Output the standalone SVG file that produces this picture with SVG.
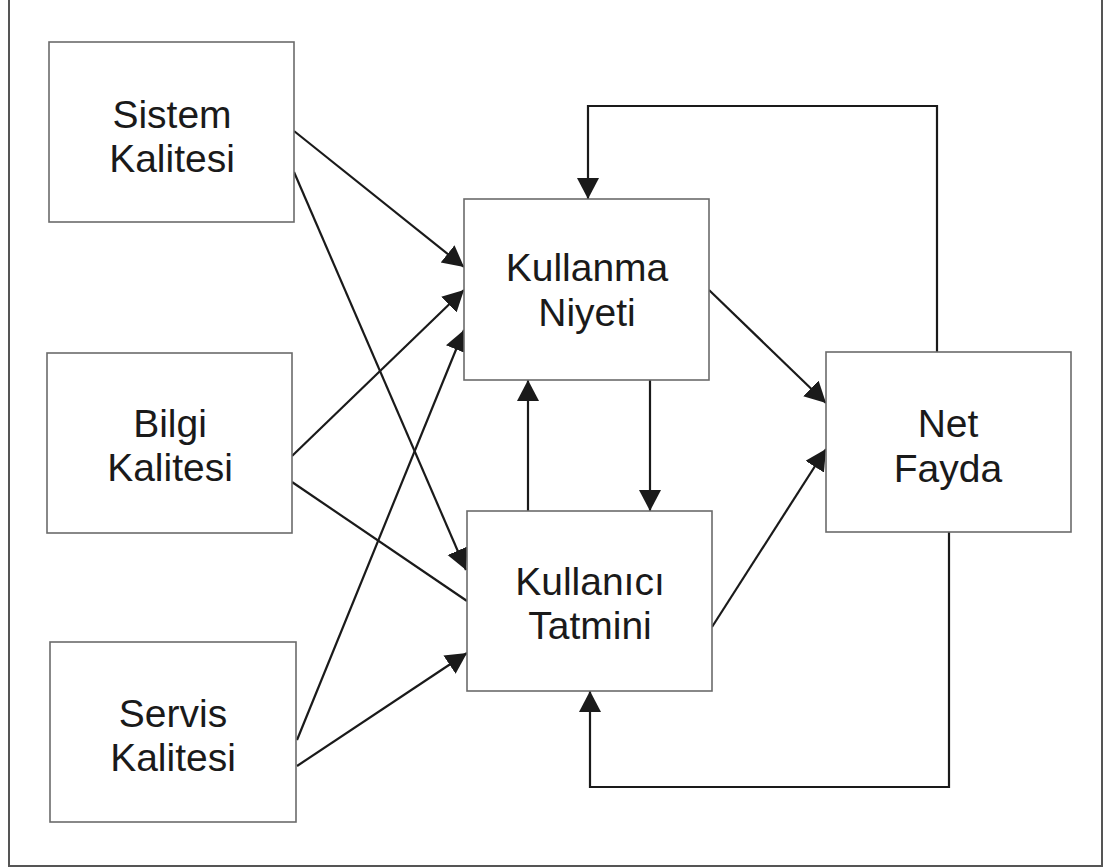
<svg xmlns="http://www.w3.org/2000/svg" width="1105" height="868" viewBox="0 0 1105 868">
  <style>
    .box { fill: #ffffff; stroke: #6b6b6b; stroke-width: 1.6; }
    .lbl { font-family: "Liberation Sans", Arial, sans-serif; font-size: 39px; fill: #1a1a1a; text-anchor: middle; }
    .edge { fill: none; stroke: #1a1a1a; stroke-width: 2.2; }
    .arr { marker-end: url(#head); }
  </style>
  <defs>
    <marker id="head" markerUnits="userSpaceOnUse" markerWidth="24" markerHeight="24" refX="21" refY="11" orient="auto">
      <path d="M0,0 L21,11 L0,22 Z" fill="#1a1a1a"/>
    </marker>
  </defs>

  <rect x="0" y="0" width="1105" height="868" fill="#ffffff"/>
  <!-- outer frame -->
  <rect x="9" y="-1" width="1093" height="867" fill="none" stroke="#555555" stroke-width="2"/>

  <!-- connectors -->
  <g id="connectors">
    <line class="edge arr" x1="294" y1="131" x2="464" y2="267"/>
    <line class="edge arr" x1="294" y1="172" x2="466" y2="570"/>
    <line class="edge arr" x1="292" y1="456" x2="464" y2="290"/>
    <line class="edge" x1="292" y1="482" x2="467" y2="601"/>
    <line class="edge arr" x1="297" y1="740" x2="464" y2="330"/>
    <line class="edge arr" x1="297" y1="766" x2="467" y2="653"/>
    <line class="edge arr" x1="709" y1="290" x2="826" y2="403"/>
    <line class="edge arr" x1="712" y1="627" x2="826" y2="449"/>
    <line class="edge arr" x1="528" y1="511" x2="528" y2="380"/>
    <line class="edge arr" x1="650" y1="380" x2="650" y2="511"/>
    <polyline class="edge arr" points="937,352 937,106 588,106 588,199"/>
    <polyline class="edge arr" points="949,532 949,787 590,787 590,691"/>
  </g>

  <g id="sistem">
    <rect class="box" x="49" y="42" width="245" height="180"/>
    <text class="lbl" x="172" y="128">Sistem</text>
    <text class="lbl" x="172" y="172">Kalitesi</text>
  </g>
  <g id="bilgi">
    <rect class="box" x="47" y="353" width="245" height="180"/>
    <text class="lbl" x="170" y="437">Bilgi</text>
    <text class="lbl" x="170" y="481">Kalitesi</text>
  </g>
  <g id="servis">
    <rect class="box" x="50" y="642" width="246" height="180"/>
    <text class="lbl" x="173" y="727">Servis</text>
    <text class="lbl" x="173" y="771">Kalitesi</text>
  </g>
  <g id="kullanma">
    <rect class="box" x="464" y="199" width="245" height="181"/>
    <text class="lbl" x="587" y="281">Kullanma</text>
    <text class="lbl" x="587" y="326">Niyeti</text>
  </g>
  <g id="kullanici">
    <rect class="box" x="467" y="511" width="245" height="180"/>
    <text class="lbl" x="590" y="595">Kullanıcı</text>
    <text class="lbl" x="590" y="639">Tatmini</text>
  </g>
  <g id="netfayda">
    <rect class="box" x="826" y="352" width="245" height="180"/>
    <text class="lbl" x="948" y="437">Net</text>
    <text class="lbl" x="948" y="482">Fayda</text>
  </g>
</svg>
